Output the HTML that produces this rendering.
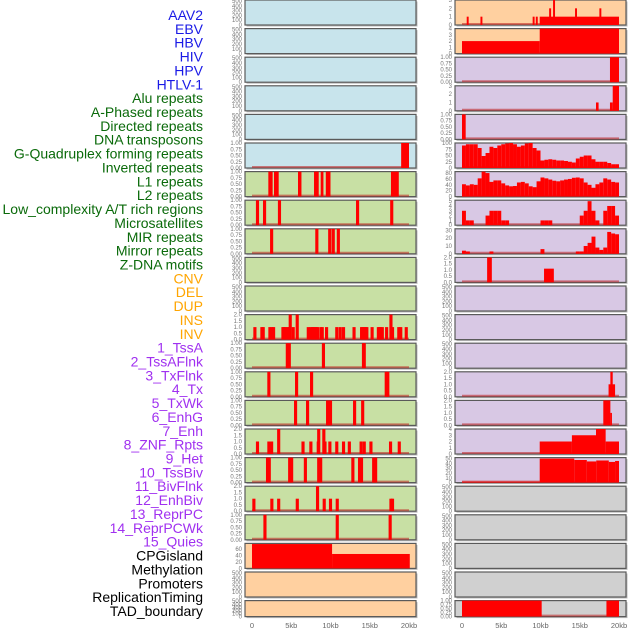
<!DOCTYPE html>
<html><head><meta charset="utf-8"><style>
body{margin:0;background:#fff;}
svg{display:block;font-family:"Liberation Sans",sans-serif;}
</style></head><body>
<svg id="chart" width="630" height="630" viewBox="0 0 630 630" xmlns="http://www.w3.org/2000/svg"></svg>
<script>
// ---- labels ----
const labelTexts = ["AAV2","EBV","HBV","HIV","HPV","HTLV-1","Alu repeats","A-Phased repeats","Directed repeats","DNA transposons","G-Quadruplex forming repeats","Inverted repeats","L1 repeats","L2 repeats","Low_complexity A/T rich regions","Microsatellites","MIR repeats","Mirror repeats","Z-DNA motifs","CNV","DEL","DUP","INS","INV","1_TssA","2_TssAFlnk","3_TxFlnk","4_Tx","5_TxWk","6_EnhG","7_Enh","8_ZNF_Rpts","9_Het","10_TssBiv","11_BivFlnk","12_EnhBiv","13_ReprPC","14_ReprPCWk","15_Quies","CPGisland","Methylation","Promoters","ReplicationTiming","TAD_boundary"];
const labelGroups = [6,13,5,15,5];
const groupColors = ["#1a1ae6","#0a6a0a","#ffa500","#a030f0","#000000"];
const xTickLabels = ["0","5kb","10kb","15kb","20kb"];
const xTickValues = [0,5,10,15,20];

// ---- left column data (kb) ----
const L5_start=[19.0], L5_end=[20.0], L5_val=[1];
const L6_start=[2.08,2.8,5.86,7.9,8.75,9.4,17.7], L6_end=[2.63,3.4,6.3,8.5,9.1,10.0,18.7], L6_val=[1,1,1,1,1,1,1];
const L7_pos=[0.5,1.4,3.3,13.25,17.6], L7_val=[1,1,1,1,1];
const L8_pos=[2.3,8.06,9.7,10.15,10.8], L8_val=[1,1,1,1,1];
const L11_pos=[0.17,1.06,1.23,2.08,2.33,2.55,3.74,3.9,4.08,4.37,4.54,4.67,5.05,5.56,6.97,7.3,7.47,7.64,7.8,7.98,8.15,8.58,8.75,9.3,10.6,11.04,11.46,12.8,13.76,13.9,14.1,14.27,14.43,15.1,15.9,16.05,16.2,16.4,16.95,17.5,17.7,18.5,18.75,19.45];
const L11_val=[1,1,1,1,1,1,1,1,1,1,1,2,1,2,1,1,1,1,1,1,1,1,1,1,1,1,1,1,1,1,1,1,1,1,1,1,1,1,1,2,1,1,1,1];
const L12_pos=[4.3,4.55,8.9,14.0,14.1], L12_val=[1,1,1,1,1];
const L13_pos=[1.95,5.48,7.39,16.9,17.1], L13_val=[1,1,1,1,1];
const L14_pos=[5.35,6.88,9.43,9.8,12.87,13.9], L14_val=[1,1,1,1,1,1];
const L15_pos=[0.5,1.95,2.3,3.2,6.3,7.3,8.24,8.3,8.95,9.1,9.72,10.6,11.46,12.2,13.7,14.1,14.95,17.45,18.56];
const L15_val=[1,1,1,2,1,1,1,2,2,1,1,1,1,1,1,1,1,1,1];
const L16_pos=[1.78,2.0,4.6,4.85,6.6,8.3,8.55,12.65,13.5,13.75,15.3,15.55], L16_val=[1,1,1,1,1,1,1,1,1,1,1,1];
const L17_pos=[0.04,2.33,3.2,5.57,8.15,9.0,9.8,10.66,17.5,17.7], L17_val=[1,1,1,1,2,1,1,1,1,1];
const L18_pos=[1.45,10.66,17.4], L18_val=[1,1,1];
const L19_start=[0,10.2], L19_end=[10.2,20.1], L19_val=[76,45];

// ---- right column data ----
const R0_start=[0.6,2.35,9.0,9.4,9.9,11.1,11.6,14.4,17.5], R0_end=[0.85,2.6,9.25,9.65,20,11.35,11.85,14.65,17.75], R0_val=[1,1,1,1,1,2,3,2,2];
const R1_start=[0,9.9], R1_end=[9.9,20], R1_val=[2,4];
const R2_start=[18.85], R2_end=[20], R2_val=[1];
const R3_start=[17.07,18.85,19.2], R3_end=[17.4,19.2,20], R3_val=[1,1,3];
const R4_start=[0], R4_end=[0.47], R4_val=[1];
const R5_bins=[90,95,95,95,80,48,60,85,80,90,95,98,100,95,85,90,98,100,80,70,30,33,35,33,30,30,28,25,22,38,45,50,50,35,25,25,25,20,15,15];
const R6_bins=[42,38,42,40,62,85,80,50,55,55,45,38,35,36,48,50,45,35,32,52,65,62,58,54,52,55,58,60,64,65,62,48,40,30,42,48,62,58,50,48];
const R7_bins=[3,1,1,0,0,0,2,3,3,3,1,1,0,0,0,0,0,0,0,0,1,1,1,0,0,0,0,0,0,0,2,3,5,3,1,0,3,4,4,2];
const R8_bins=[4,3,0,0,0,0,0,3,0,0,0,0,0,0,0,0,0,0,0,0,6,0,0,0,0,0,0,0,0,3,3,10,14,22,8,5,8,28,26,25];
const R9_start=[3.2,10.45], R9_end=[3.8,11.7], R9_val=[2,1.1];
const R13_start=[18.67,18.9], R13_end=[19.5,19.2], R13_val=[1,2];
const R14_start=[18.0,18.9], R14_end=[18.9,19.1], R14_val=[2,1];
const R15_start=[9.9,14.0,17.07,18.3], R15_end=[14.0,17.07,18.3,20], R15_val=[2,3,4,2];
const R16_start=[0,9.9,14.3,15.9,17.1,18.7,19.5], R16_end=[9.9,14.3,15.9,17.1,18.7,19.5,20], R16_val=[2,50,47,44,46,43,45];
const R21_start=[0,18.4], R21_end=[10.15,20], R21_val=[1,1];

const NS="http://www.w3.org/2000/svg";
const svg=document.getElementById('chart');
function mk(tag,attrs,parent){const e=document.createElementNS(NS,tag);for(const k in attrs)e.setAttribute(k,attrs[k]);(parent||svg).appendChild(e);return e;}

// labels
let li=0;
labelGroups.forEach((n,g)=>{for(let k=0;k<n;k++){const t=mk('text',{x:203,y:(15+li*13.86+5).toFixed(1),'text-anchor':'end','font-size':'14',fill:groupColors[g]});


t.textContent=labelTexts[li];li++;}});

const colPanelX=[245,455], colZero=[252,462], PX_PER_KB=7.85, PANEL_W=171;
function xs(col,kb){return colZero[col]+kb*PX_PER_KB;}
function rowTop(r){return r*28.6;}
function rowH(r){return r==21?16:25;}
const BG={blue:"#c8e4ec",green:"#c8e0a4",peach:"#ffd0a0",lav:"#d8c8e4",gray:"#d0d0d0"};
const T1=[0,0.25,0.5,0.75,1], T1L=["0.00","0.25","0.50","0.75","1.00"];
const T2=[0,0.5,1,1.5,2], T2L=["0.0","0.5","1.0","1.5","2.0"];
const TE=[0,100,200,300,400,500], TEL=["0","100","200","300","400","500"];
function intT(n){return [...Array(n+1).keys()];}

function panel(col,r,bg,ymax,ticks,tickLabels,name){
  const top=rowTop(r),h=rowH(r),x=colPanelX[col];
  const g=mk('g',{});
  
  
  mk('rect',{x:x+1.5,y:top+1.5,width:PANEL_W,height:h,fill:'#bbb'},g);
  mk('rect',{x:x,y:top,width:PANEL_W,height:h,fill:bg,stroke:'#5a5a5a','stroke-width':1.2},g);
  const ys=v=>top+h-(v/ymax)*h;
  ticks.forEach((v,i)=>{const t=mk('text',{x:x-3,y:(ys(v)+2).toFixed(1),'text-anchor':'end','font-size':'6',fill:'#777'},g);
    
    
    t.textContent=tickLabels[i];});
  return {g,ys,top,h,col};
}
function baseline(p){mk('line',{x1:xs(p.col,0),x2:xs(p.col,20),y1:p.top+p.h-1,y2:p.top+p.h-1,stroke:'rgba(190,30,30,0.55)','stroke-width':2},p.g);}
function segs(p,s,e,v){baseline(p);s.forEach((a,i)=>{const x1=xs(p.col,a),x2=xs(p.col,e[i]),y=p.ys(v[i]);
  const b=mk('rect',{x:x1,y:y,width:Math.max(0.8,x2-x1),height:p.top+p.h-y,fill:'#ff0000'},p.g);
  
  });}
function spikes(p,pos,v){segs(p,pos,pos.map(a=>a+0.4),v);}
function bins(p,arr){segs(p,arr.map((_,i)=>i*0.5),arr.map((_,i)=>i*0.5+0.5),arr);}

// left column
for(let r=0;r<5;r++)panel(0,r,BG.blue,520,TE,TEL,'left-panel-empty');
segs(panel(0,5,BG.blue,1,T1,T1L,'left-panel-htlv'),L5_start,L5_end,L5_val);
segs(panel(0,6,BG.green,1,T1,T1L,'left-panel-6'),L6_start,L6_end,L6_val);
spikes(panel(0,7,BG.green,1,T1,T1L,'left-panel-7'),L7_pos,L7_val);
spikes(panel(0,8,BG.green,1,T1,T1L,'left-panel-8'),L8_pos,L8_val);
panel(0,9,BG.green,520,TE,TEL,'left-panel-empty');
panel(0,10,BG.green,520,TE,TEL,'left-panel-empty');
spikes(panel(0,11,BG.green,2,T2,T2L,'left-panel-11'),L11_pos,L11_val);
spikes(panel(0,12,BG.green,1,T1,T1L,'left-panel-12'),L12_pos,L12_val);
spikes(panel(0,13,BG.green,1,T1,T1L,'left-panel-13'),L13_pos,L13_val);
spikes(panel(0,14,BG.green,1,T1,T1L,'left-panel-14'),L14_pos,L14_val);
spikes(panel(0,15,BG.green,2,T2,T2L,'left-panel-15'),L15_pos,L15_val);
spikes(panel(0,16,BG.green,1,T1,T1L,'left-panel-16'),L16_pos,L16_val);
spikes(panel(0,17,BG.green,2,T2,T2L,'left-panel-17'),L17_pos,L17_val);
spikes(panel(0,18,BG.green,1,T1,T1L,'left-panel-18'),L18_pos,L18_val);
segs(panel(0,19,BG.peach,78,[0,20,40,60],["0","20","40","60"],'left-panel-cpg'),L19_start,L19_end,L19_val);
panel(0,20,BG.peach,520,TE,TEL,'left-panel-empty');
panel(0,21,BG.peach,520,TE,TEL,'left-panel-empty');

// right column
segs(panel(1,0,BG.peach,3,intT(3),["0","1","2","3"],'right-panel-aav2'),R0_start,R0_end,R0_val);
segs(panel(1,1,BG.peach,4,intT(4),["0","1","2","3","4"],'right-panel-ebv'),R1_start,R1_end,R1_val);
segs(panel(1,2,BG.lav,1,T1,T1L,'right-panel-2'),R2_start,R2_end,R2_val);
segs(panel(1,3,BG.lav,3,intT(3),["0","1","2","3"],'right-panel-3'),R3_start,R3_end,R3_val);
segs(panel(1,4,BG.lav,1,T1,T1L,'right-panel-4'),R4_start,R4_end,R4_val);
bins(panel(1,5,BG.lav,100,[0,25,50,75,100],["0","25","50","75","100"],'right-panel-5'),R5_bins);
bins(panel(1,6,BG.lav,85,[0,20,40,60,80],["0","20","40","60","80"],'right-panel-6'),R6_bins);
bins(panel(1,7,BG.lav,5.2,intT(5),["0","1","2","3","4","5"],'right-panel-7'),R7_bins);
bins(panel(1,8,BG.lav,32,[0,10,20,30],["0","10","20","30"],'right-panel-8'),R8_bins);
segs(panel(1,9,BG.lav,2,T2,T2L,'right-panel-9'),R9_start,R9_end,R9_val);
for(let r=10;r<13;r++)panel(1,r,BG.lav,520,TE,TEL,'right-panel-empty');
segs(panel(1,13,BG.lav,2,T2,T2L,'right-panel-13'),R13_start,R13_end,R13_val);
segs(panel(1,14,BG.lav,2,T2,T2L,'right-panel-14'),R14_start,R14_end,R14_val);
segs(panel(1,15,BG.lav,4,intT(4),["0","1","2","3","4"],'right-panel-15'),R15_start,R15_end,R15_val);
segs(panel(1,16,BG.lav,52,[0,10,20,30,40,50],["0","10","20","30","40","50"],'right-panel-16'),R16_start,R16_end,R16_val);
for(let r=17;r<21;r++)panel(1,r,BG.gray,520,TE,TEL,'right-panel-empty');
segs(panel(1,21,BG.gray,1,T1,T1L,'right-panel-tad'),R21_start,R21_end,R21_val);

// x axes
[0,1].forEach(col=>{xTickValues.forEach((v,i)=>{const t=mk('text',{x:xs(col,v),y:628,'text-anchor':'middle','font-size':'7.5',fill:'#666'});
  
  
  t.textContent=xTickLabels[i];});});
</script>
</body></html>
